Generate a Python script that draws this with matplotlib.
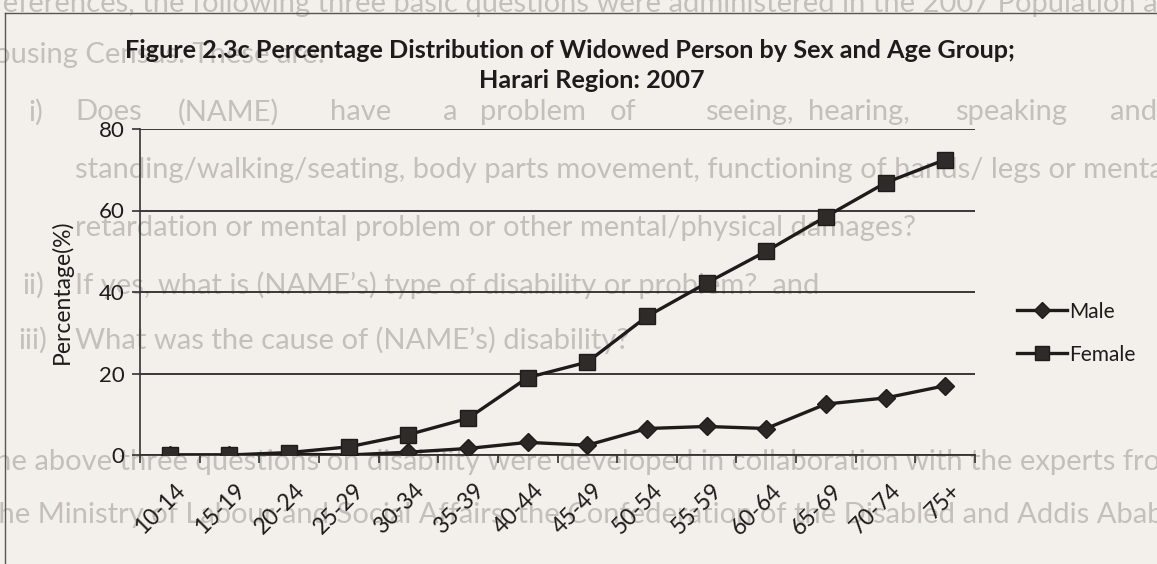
import numpy as np
import matplotlib.pyplot as plt
import matplotlib.transforms as mtransforms
from matplotlib.lines import Line2D

# Data
age_groups = ['10-14', '15-19', '20-24', '25-29', '30-34', '35-39', '40-44',
              '45-49', '50-54', '55-59', '60-64', '65-69', '70-74', '75+']
male = [0.0, 0.0, 0.2, 0.0, 0.7, 1.6, 3.1, 2.4, 6.5, 7.0, 6.5, 12.5, 14.0, 17.0]
female = [0.0, 0.0, 0.6, 2.0, 5.0, 9.0, 19.0, 22.8, 34.0, 42.2, 50.0, 58.5, 66.8, 72.5]
y_ticks = [0, 20, 40, 60, 80]

paper = '#f3efea'
ghost = '#c4bfba'
ink = '#1e1c1a'
font = 'Lato'

W, H = 1157, 564
fig = plt.figure(figsize=(W / 100, H / 100), dpi=100, facecolor=paper)

# faint page text showing behind the chart
def ghost_text(x, y, s):
    fig.text(x / W, 1 - y / H, s, fontsize=21, color=ghost, family=font,
             va='center', ha='left', zorder=0)

ghost_text(-8, 4, 'references, the following three basic questions were administered in the 2007 Population and')
ghost_text(-28, 55, 'Housing Census. These are:')
for x, w in [(28, 'i)'), (75, 'Does'), (178, '(NAME)'), (330, 'have'), (443, 'a'),
             (480, 'problem'), (610, 'of'), (705, 'seeing,'), (808, 'hearing,'),
             (955, 'speaking'), (1110, 'and/or')]:
    ghost_text(x, 112, w)
ghost_text(75, 170, 'standing/walking/seating, body parts movement, functioning of hands/ legs or mental')
ghost_text(75, 228, 'retardation or mental problem or other mental/physical damages?')
ghost_text(22, 285, 'ii)')
ghost_text(75, 285, 'If yes, what is (NAME\u2019s) type of disability or problem?  and')
ghost_text(18, 340, 'iii)')
ghost_text(75, 340, 'What was the cause of (NAME\u2019s) disability?')
ghost_text(-22, 462, 'The above three questions on disability were developed in collaboration with the experts from')
ghost_text(-12, 515, 'the Ministry of Labour and Social Affairs, the Confederation of the Disabled and Addis Ababa')

# chart frame edge
fig.add_artist(Line2D([5 / W, 5 / W], [0, 1 - 13 / H], transform=fig.transFigure,
                      color='#555', lw=1, zorder=1))
fig.add_artist(Line2D([5 / W, 1], [1 - 13 / H, 1 - 13 / H], transform=fig.transFigure,
                      color='#555', lw=1, zorder=1))

ax = fig.add_axes([140 / W, 1 - 455 / H, 835 / W, 326 / H])
ax.set_facecolor('none')
ax.set_zorder(2)

x = np.arange(len(age_groups))
ax.plot(x, male, color=ink, lw=2.4, marker='D', markersize=9.5, markerfacecolor='#2a2725',
        markeredgecolor=ink, label='Male', zorder=4)
ax.plot(x, female, color=ink, lw=2.4, marker='s', markersize=12, markerfacecolor='#2f2b28',
        markeredgecolor=ink, label='Female', zorder=4)

ax.set_xlim(-0.5, len(age_groups) - 0.5)
ax.set_ylim(0, 80)
ax.set_yticks(y_ticks)
ax.yaxis.grid(True, color='#2a2a2a', lw=1.3)
ax.set_axisbelow(True)
for s in ['top', 'right']:
    ax.spines[s].set_visible(False)
ax.spines['left'].set_color('#333')
ax.spines['bottom'].set_color('#333')
ax.spines['left'].set_linewidth(1.2)
ax.spines['bottom'].set_linewidth(1.3)

ax.set_xticks(x)
ax.set_xticks(np.arange(-0.5, len(age_groups), 1), minor=True)
ax.tick_params(axis='x', which='major', length=0, pad=18)
ax.tick_params(axis='x', which='minor', length=6, width=1.2, color='#333')
ax.tick_params(axis='y', length=6, width=1.2, color='#333', labelsize=16, pad=5)
ax.set_xticklabels(age_groups, rotation=45, ha='right', rotation_mode='anchor',
                   fontsize=16.5, family=font, color=ink)
offset = mtransforms.ScaledTranslation(5 / 100, 0, fig.dpi_scale_trans)
for lab in ax.get_xticklabels():
    lab.set_transform(lab.get_transform() + offset)
for lab in ax.get_yticklabels():
    lab.set_family(font)
    lab.set_color(ink)

ax.set_ylabel('Percentage(%)', fontsize=16.5, family=font, color=ink, labelpad=19)

fig.text(570 / W, 1 - 50 / H,
         'Figure 2.3c Percentage Distribution of Widowed Person by Sex and Age Group;',
         ha='center', va='center', fontsize=18.2, fontweight='bold', family=font, color=ink,
         zorder=3)
fig.text(592 / W, 1 - 81 / H, 'Harari Region: 2007', ha='center', va='center',
         fontsize=18.2, fontweight='bold', family=font, color=ink, zorder=3)

leg = ax.legend(loc='center left', bbox_to_anchor=(1.028, 0.374), frameon=False,
                prop={'family': font, 'size': 15}, handlelength=2.4, labelspacing=1.1,
                handletextpad=0.1, markerscale=0.85)
for t in leg.get_texts():
    t.set_color(ink)

fig.savefig('out.png', dpi=100, facecolor=paper)
